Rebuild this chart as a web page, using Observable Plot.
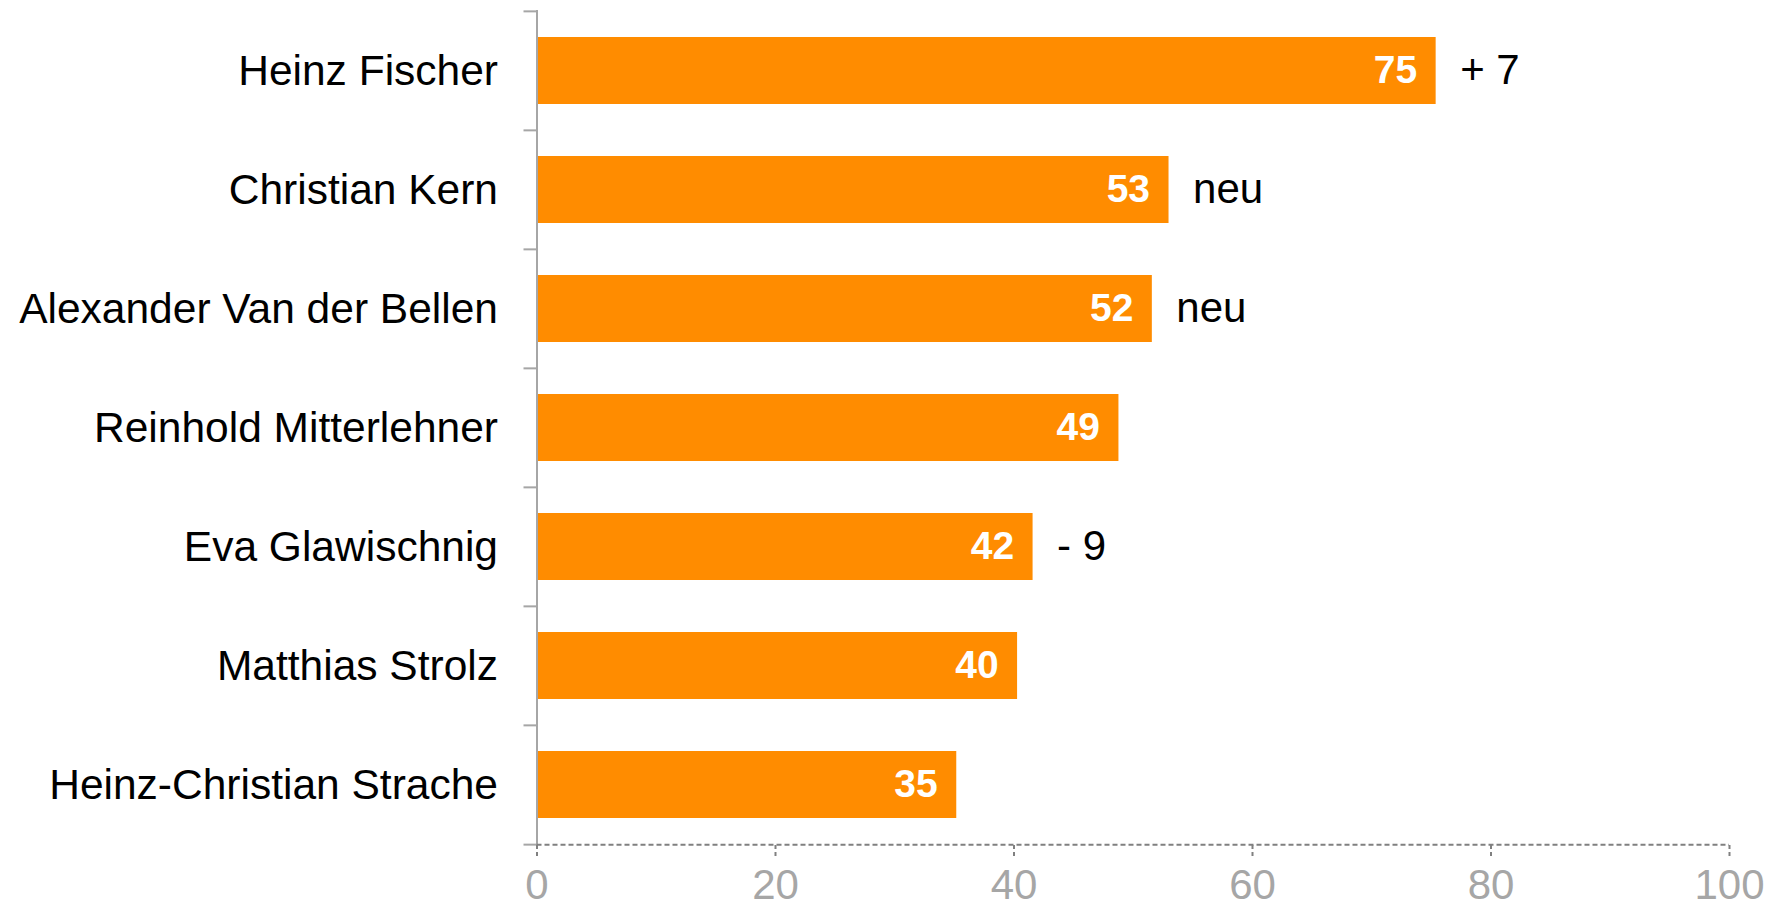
<!DOCTYPE html>
<html><head><meta charset="utf-8">
<script src="https://cdn.jsdelivr.net/npm/d3@7"></script>
<script src="https://cdn.jsdelivr.net/npm/@observablehq/plot@0.6"></script>
<style>body{margin:0;background:#fff;overflow:hidden}</style>
</head><body><div id="chart"></div>
<script>
const names = ["Heinz Fischer", "Christian Kern", "Alexander Van der Bellen", "Reinhold Mitterlehner", "Eva Glawischnig", "Matthias Strolz", "Heinz-Christian Strache"];
const values = [75.4, 53.0, 51.6, 48.8, 41.6, 40.3, 35.2];
const changes = ["+ 7", "neu", "neu", "", "- 9", "", ""];
const xTicks = [0, 20, 40, 60, 80, 100];

const data = names.map((name, i) => ({name, value: values[i], label: String(Math.round(values[i])), change: changes[i]}));
const W = 1767, H = 911, mL = 536.5, mR = 38, mT = 10, mB = 66;
const step = (H - mT - mB) / names.length;
const pxPerUnit = (W - mL - mR) / 100;
const tickLen = 13 / pxPerUnit;
const last = names[names.length - 1];

const plot = Plot.plot({
  width: W, height: H, marginLeft: mL, marginRight: mR, marginTop: mT, marginBottom: mB,
  style: {fontFamily: "'Liberation Sans', Arial, sans-serif", background: "white", display: "block"},
  x: {domain: [0, 100]},
  y: {domain: names, paddingInner: 0.44, paddingOuter: 0.22},
  marks: [
    Plot.barX(data, {x: "value", y: "name", fill: "#ff8c00"}),
    Plot.ruleX([0], {stroke: "#a6a6a6", strokeWidth: 2}),
    Plot.ruleY(names, {y: d => d, x1: -tickLen, x2: 0, dy: -step / 2, stroke: "#a6a6a6", strokeWidth: 2}),
    Plot.ruleY([last], {y: d => d, x1: -tickLen, x2: 0, dy: step / 2, stroke: "#a6a6a6", strokeWidth: 2}),
    Plot.ruleY([last], {y: d => d, x1: 0, x2: 100, dy: step / 2, stroke: "#808080", strokeWidth: 2, strokeDasharray: "5,3"}),
    Plot.axisX({ticks: xTicks, tickSize: 12, tickPadding: 12, stroke: "#808080", strokeWidth: 2, strokeDasharray: "4,3", fill: "#a6a6a6", fontSize: 42, label: null}),
    Plot.axisY({tickSize: 0, tickPadding: 39, fontSize: 42.5, fill: "black", label: null}),
    Plot.text(data, {x: "value", y: "name", text: "label", textAnchor: "end", dx: -19, fill: "white", fontWeight: "bold", fontSize: 39}),
    Plot.text(data, {x: "value", y: "name", text: "change", textAnchor: "start", dx: 24, fill: "black", fontSize: 42})
  ]
});
document.getElementById("chart").appendChild(plot);
</script>
</body></html>
